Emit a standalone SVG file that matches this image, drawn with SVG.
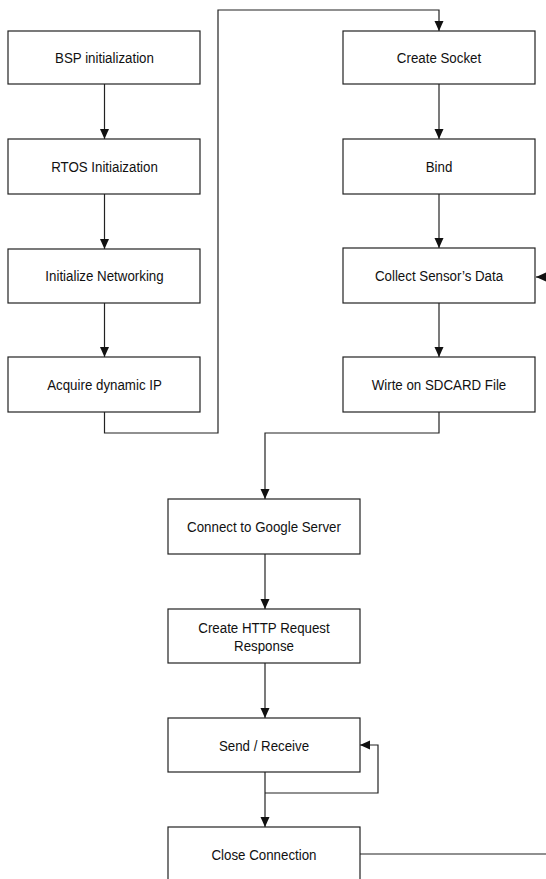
<svg xmlns="http://www.w3.org/2000/svg" width="546" height="879" viewBox="0 0 546 879">
<style>
.box{fill:#fff;stroke:#222;stroke-width:1.2}
.lbl{font-family:"Liberation Sans",Arial,sans-serif;font-size:14.8px;fill:#111;text-anchor:middle}
.c{fill:none;stroke:#222;stroke-width:1.2}
</style>
<defs>
<marker id="ah" markerUnits="userSpaceOnUse" markerWidth="10" markerHeight="10" viewBox="0 0 10 10" refX="10" refY="5" orient="auto">
<path d="M0,0.5 L10,5 L0,9.5 Z" fill="#111"/>
</marker>
</defs>
<rect width="546" height="879" fill="#fff"/>
<g id="connectors">
<line class="c" x1="104.5" y1="84" x2="104.5" y2="139" marker-end="url(#ah)"/>
<line class="c" x1="104.5" y1="194" x2="104.5" y2="249" marker-end="url(#ah)"/>
<line class="c" x1="104.5" y1="303" x2="104.5" y2="357" marker-end="url(#ah)"/>
<path class="c" d="M104.5,412 V433 H218 V10 H439 V31" marker-end="url(#ah)"/>
<line class="c" x1="439" y1="84" x2="439" y2="139" marker-end="url(#ah)"/>
<line class="c" x1="439" y1="194" x2="439" y2="248" marker-end="url(#ah)"/>
<line class="c" x1="439" y1="303" x2="439" y2="357" marker-end="url(#ah)"/>
<path class="c" d="M439,412 V433 H265 V499" marker-end="url(#ah)"/>
<line class="c" x1="546" y1="277" x2="536" y2="277" marker-end="url(#ah)"/>
<line class="c" x1="265" y1="554" x2="265" y2="609" marker-end="url(#ah)"/>
<line class="c" x1="265" y1="663" x2="265" y2="718" marker-end="url(#ah)"/>
<line class="c" x1="265" y1="772" x2="265" y2="827" marker-end="url(#ah)"/>
<path class="c" d="M265,793 H378 V745 H360" marker-end="url(#ah)"/>
<line class="c" x1="360" y1="854" x2="546" y2="854"/>
</g>
<g id="bsp"><rect class="box" x="8" y="31" width="192" height="53"/><text class="lbl" transform="translate(104.5,63) scale(0.9,1)">BSP initialization</text></g>
<g id="rtos"><rect class="box" x="8" y="139" width="192" height="55"/><text class="lbl" transform="translate(104.5,171.5) scale(0.9,1)">RTOS Initiaization</text></g>
<g id="net"><rect class="box" x="8" y="249" width="192" height="54"/><text class="lbl" transform="translate(104.5,281) scale(0.9,1)">Initialize Networking</text></g>
<g id="ip"><rect class="box" x="8" y="357" width="192" height="55"/><text class="lbl" transform="translate(104.5,389.5) scale(0.9,1)">Acquire dynamic IP</text></g>
<g id="socket"><rect class="box" x="343" y="31" width="192" height="53"/><text class="lbl" transform="translate(439,63) scale(0.9,1)">Create Socket</text></g>
<g id="bind"><rect class="box" x="343" y="139" width="192" height="55"/><text class="lbl" transform="translate(439,171.5) scale(0.9,1)">Bind</text></g>
<g id="collect"><rect class="box" x="343" y="248" width="192" height="55"/><text class="lbl" transform="translate(439,280.5) scale(0.9,1)">Collect Sensor’s Data</text></g>
<g id="write"><rect class="box" x="343" y="357" width="192" height="55"/><text class="lbl" transform="translate(439,389.5) scale(0.9,1)">Wirte on SDCARD File</text></g>
<g id="connect"><rect class="box" x="168" y="499" width="192" height="55"/><text class="lbl" transform="translate(264,531.5) scale(0.9,1)">Connect to Google Server</text></g>
<g id="http"><rect class="box" x="168" y="609" width="192" height="54"/><text class="lbl" transform="translate(264,632.5) scale(0.9,1)">Create HTTP Request</text><text class="lbl" transform="translate(264,650.5) scale(0.9,1)">Response</text></g>
<g id="send"><rect class="box" x="168" y="718" width="192" height="54"/><text class="lbl" transform="translate(264,750.5) scale(0.9,1)">Send / Receive</text></g>
<g id="close"><rect class="box" x="168" y="827" width="192" height="60"/><text class="lbl" transform="translate(264,859.5) scale(0.9,1)">Close Connection</text></g>
</svg>
